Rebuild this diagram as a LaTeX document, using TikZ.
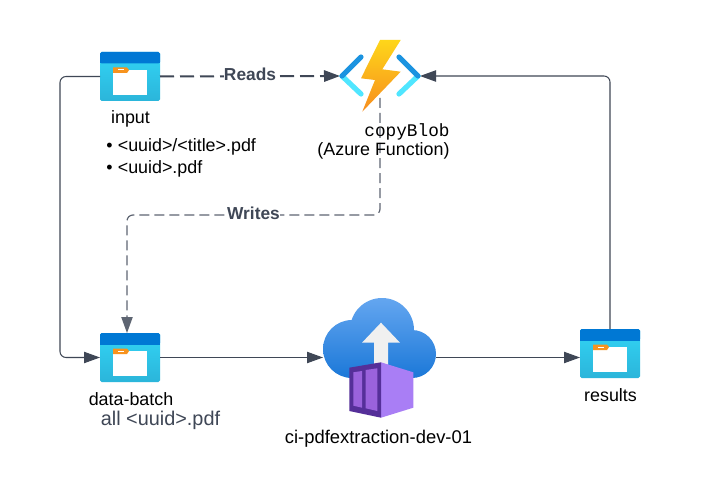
\documentclass[tikz,border=0pt]{standalone}
\usepackage{fontspec}
\setmainfont{Liberation Sans}
\setmonofont{Liberation Mono}
\usetikzlibrary{arrows.meta}
\definecolor{linecol}{HTML}{3F4756}
\definecolor{graycol}{HTML}{5E6572}
\definecolor{fhead}{HTML}{0078D4}
\definecolor{ftop}{HTML}{32D4F5}
\definecolor{fbot}{HTML}{2BB5DA}
\definecolor{ftab}{HTML}{F7931E}
\definecolor{chevd}{HTML}{1B93E0}
\definecolor{chevl}{HTML}{50E6FF}
\definecolor{boltt}{HTML}{FED61A}
\definecolor{boltb}{HTML}{F78D1E}
\definecolor{cloudt}{HTML}{64A6F0}
\definecolor{cloudb}{HTML}{1B78D8}
\definecolor{cdark}{HTML}{552F99}
\definecolor{clight}{HTML}{A97EF5}
\definecolor{cpanel}{HTML}{9A62DC}
\tikzset{
  iconbox/.style={minimum width=45pt,minimum height=36.75pt,inner sep=0pt,outer sep=0pt},
  label/.style={inner sep=0pt,font=\fontsize{13.4}{16}\selectfont,text=black},
  edgelabel/.style={inner sep=0.3pt,fill=white,font=\fontsize{13}{15}\selectfont\bfseries,text=linecol},
  solidlink/.style={draw=linecol,line width=0.8pt,rounded corners=4.5pt,-{Triangle[length=12pt,width=8.5pt]}},
  readlink/.style={draw=linecol,line width=1.5pt,dash pattern=on 10.5pt off 4.5pt,-{Triangle[length=12pt,width=8.5pt]}},
  writelink/.style={draw=graycol,line width=0.9pt,rounded corners=4.5pt,dash pattern=on 7.5pt off 3.75pt,-{Triangle[length=12pt,width=8.5pt]}},
}
\newcommand{\foldericon}[3]{%
  \begin{scope}[shift={(#2,#3)}]
    \shade[top color=ftop,bottom color=fbot,rounded corners=1.2pt] (-30,-24.5) rectangle (30,24.5);
    \fill[fhead,rounded corners=1.2pt] (-30,-24.5) rectangle (30,-13);
    \fill[fhead] (-30,-16) rectangle (30,-13);
    \fill[white] (-17,-6.5) rectangle (17,18.5);
    \fill[ftab] (-17,-9) -- (-3,-9) -- (-1,-6.5) -- (-3,-3.5) -- (-17,-3.5) -- cycle;
    \fill[white] (-12,-7) rectangle (-6,-6);
  \end{scope}
  \node[iconbox] (#1) at (#2,#3) {};%
}
\begin{document}
\begin{tikzpicture}[x=0.75pt,y=-0.75pt]
\useasboundingbox (0,0) rectangle (711,492);
\fill[white] (0,0) rectangle (711,492);

% Nodes
\foldericon{input}{130}{76.5}
\foldericon{batch}{130}{357.5}
\foldericon{results}{610}{353.5}
\node[minimum width=60pt,minimum height=33pt,inner sep=0pt,outer sep=0pt] (fn) at (380,76) {};
\node[minimum width=84.75pt,minimum height=10pt,inner sep=0pt,outer sep=0pt] (cloud) at (379.5,357.5) {};

\coordinate (lc1) at (60,76.5);
\coordinate (lc2) at (60,357.5);
\coordinate (wc1) at (380,215);
\coordinate (wc2) at (127,215);
\coordinate (wc3) at (127,333);
\coordinate (resin) at (580,357.5);
\coordinate (rc1) at (610,76);

% Connectors
\draw[solidlink] (input.west) -- (lc1) -- (lc2) -- (batch.west);
\draw[readlink] (input.east) -- (fn.west);
\draw[writelink] (fn.south) -- (wc1) -- (wc2) -- (wc3);
\draw[solidlink] (batch.east) -- (cloud.west);
\draw[solidlink] (cloud.east) -- (resin);
\draw[solidlink] (results.north) -- (rc1) -- (fn.east);

\node[edgelabel] (readslbl) at (250,74) {Reads};
\node[edgelabel] (writeslbl) at (253.5,213.5) {Writes};

% Function icon
\draw[chevl,line width=3.9pt,line cap=round] (342,76) -- (361,94);
\draw[chevd,line width=3.9pt,line cap=round] (342,76) -- (361,57);
\draw[chevl,line width=3.9pt,line cap=round] (418,76) -- (399,94);
\draw[chevd,line width=3.9pt,line cap=round] (418,76) -- (399,57);
\shade[top color=boltt,bottom color=boltb]
  (380,40) -- (400.7,40) -- (382.3,69.3) -- (400.7,71.7) -- (362.3,111.7) -- (375,80) -- (361,78.3) -- cycle;

% Cloud icon
\shade[top color=cloudt,bottom color=cloudb]
  (352,349) circle[radius=21.75pt]
  (382,330) circle[radius=24pt]
  (412,354) circle[radius=18pt]
  (352,349) -- (352,378) -- (412,378) -- (412,349) -- cycle;
\fill[white!94!black]
  (381,322.7) -- (400,342.7) -- (388,342.7) -- (388,368) -- (374,368) -- (374,342.7) -- (362,342.7) -- cycle;
\fill[clight] (381,362.3) -- (413.3,372.3) -- (413.3,407.7) -- (381,417.7) -- cycle;
\fill[cdark] (349.3,367.7) -- (381,362.3) -- (381,417.7) -- (349.3,411) -- cycle;
\fill[cpanel] (353.3,372.3) -- (362,371) -- (362,407.7) -- (353.3,405.7) -- cycle;
\fill[cpanel] (365.7,370) -- (377.3,368.3) -- (377.3,411) -- (365.7,408.3) -- cycle;

% Text
\node[label] (inputlbl) at (130.5,119) {input};
\node[label,anchor=west] (bul1) at (106,147) {•\hspace{4pt}<uuid>/<title>.pdf};
\node[label,anchor=west] (bul2) at (106,168.5) {•\hspace{4pt}<uuid>.pdf};
\node[label,font=\fontsize{13.3}{16}\ttfamily] (fnname) at (407,131.5) {copyBlob};
\node[label] (fnsub) at (383.5,150.5) {(Azure Function)};
\node[label] (batchlbl) at (131,399.5) {data-batch};
\node[label,text=linecol,font=\fontsize{14.9}{18}\selectfont] (batchsub) at (160.5,420) {all <uuid>.pdf};
\node[label] (resultslbl) at (610.5,395) {results};
\node[label,font=\fontsize{13.8}{16}\selectfont] (cilbl) at (378.5,438.5) {ci-pdfextraction-dev-01};
\end{tikzpicture}
\end{document}
